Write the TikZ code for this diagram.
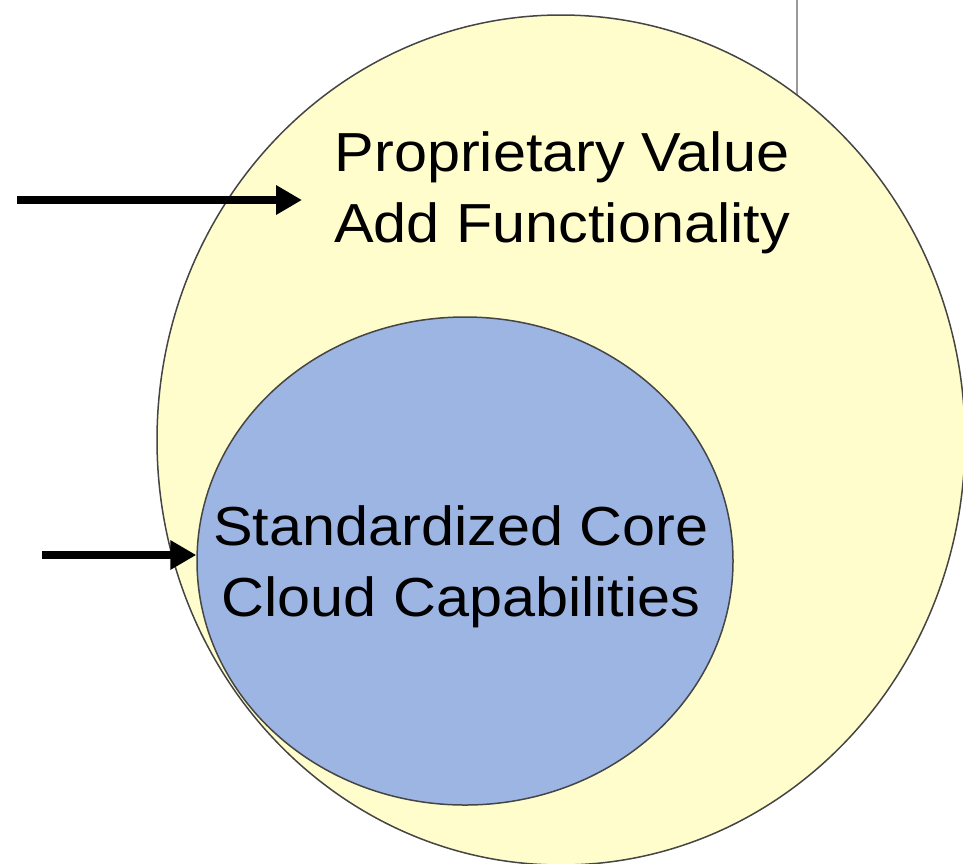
\documentclass[tikz,border=0pt]{standalone}
\usepackage{fontspec}
\setmainfont{Liberation Sans}[FakeStretch=1.08]
\usetikzlibrary{arrows.meta, shapes.geometric}
\definecolor{pale}{HTML}{FFFDCB}
\definecolor{core}{HTML}{9DB5E3}
\definecolor{rim}{HTML}{454545}
\definecolor{rule}{HTML}{9A9A9A}

\begin{document}
\begin{tikzpicture}[x=1pt, y=-1pt,
    zone/.style={ellipse, draw=rim, line width=1.5pt, inner sep=0pt},
    lbl/.style={align=center, font=\fontsize{55}{71}\selectfont, inner sep=0pt},
    arr/.style={-{Triangle[length=26pt, width=28pt]}, line width=8pt}
  ]
  \useasboundingbox (0,0) rectangle (963,863);
  \clip (0,0) rectangle (963,863);

  % thin rule behind the outer ring
  \draw[rule, line width=1.5pt] (797,0) -- (797,150);

  % the two rings
  \node[zone, fill=pale, minimum width=808pt, minimum height=850pt] (outer) at (561,440) {};
  \node[zone, fill=core, minimum width=536pt, minimum height=488pt] (inner) at (465,561) {};

  % labels
  \node[lbl] (propval) at (562,193) {Proprietary Value\\Add Functionality};
  \node[lbl] (stdcore) at (461,567) {Standardized Core\\Cloud Capabilities};

  % pointers
  \coordinate (topfrom) at (17,200);
  \coordinate (topto) at (302,200);
  \coordinate (lowfrom) at (42,555);
  \draw[arr] (topfrom) -- (topto);
  \draw[arr] (lowfrom) -- (inner.west |- lowfrom);
\end{tikzpicture}
\end{document}
